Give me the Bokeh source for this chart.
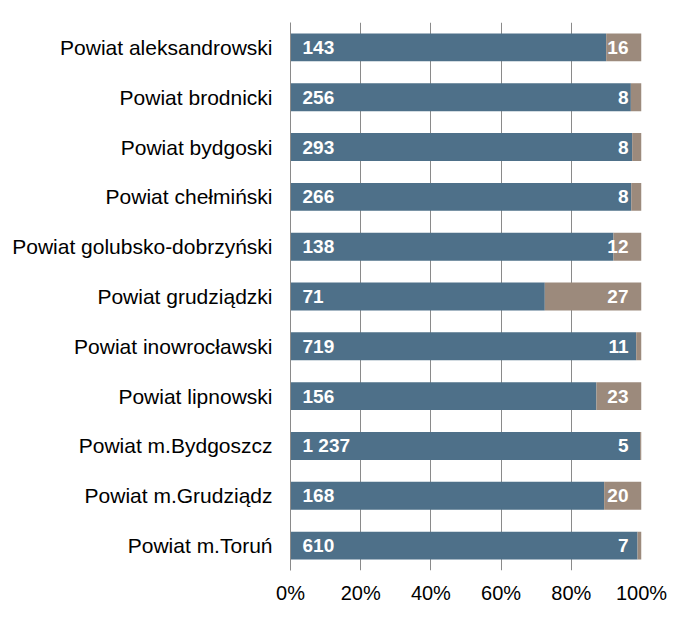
from bokeh.plotting import figure
from bokeh.models import ColumnDataSource, FactorRange, Range1d, FixedTicker, NumeralTickFormatter, LabelSet
from bokeh.core.properties import value
from bokeh.embed import file_html
from bokeh.resources import INLINE

categories = [
    "Powiat aleksandrowski",
    "Powiat brodnicki",
    "Powiat bydgoski",
    "Powiat chełmiński",
    "Powiat golubsko-dobrzyński",
    "Powiat grudziądzki",
    "Powiat inowrocławski",
    "Powiat lipnowski",
    "Powiat m.Bydgoszcz",
    "Powiat m.Grudziądz",
    "Powiat m.Toruń",
]
series_a = [143, 256, 293, 266, 138, 71, 719, 156, 1237, 168, 610]
series_b = [16, 8, 8, 8, 12, 27, 11, 23, 5, 20, 7]
x_ticks = [0, 0.2, 0.4, 0.6, 0.8, 1.0]

BLUE = "#4E7089"
TAUPE = "#9C8A7C"
GRID = "#8A8A8A"
FONT = "Liberation Sans"

totals = [a + b for a, b in zip(series_a, series_b)]
share_a = [a / t for a, t in zip(series_a, totals)]

def fmt(v):
    return f"{v:,}".replace(",", " ")

src = ColumnDataSource(dict(
    cat=categories,
    zero=[0] * len(categories),
    share_a=share_a,
    one=[1] * len(categories),
    lab_a=[fmt(v) for v in series_a],
    lab_b=[fmt(v) for v in series_b],
))

p = figure(
    width=683, height=611,
    y_range=FactorRange(factors=list(reversed(categories))),
    x_range=Range1d(0, 1),
    output_backend="svg", toolbar_location=None,
    min_border_left=290, min_border_right=42, min_border_top=22, min_border_bottom=41,
)

p.hbar(y="cat", left="zero", right="share_a", height=0.56, source=src, fill_color=BLUE, line_color=None)
p.hbar(y="cat", left="share_a", right="one", height=0.56, source=src, fill_color=TAUPE, line_color=None)

la = LabelSet(x="zero", y="cat", text="lab_a", source=src, x_offset=12,
              text_align="left", text_baseline="middle", text_color="white",
              text_font=value(FONT), text_font_style="bold", text_font_size="19px")
lb = LabelSet(x="one", y="cat", text="lab_b", source=src, x_offset=-13,
              text_align="right", text_baseline="middle", text_color="white",
              text_font=value(FONT), text_font_style="bold", text_font_size="19px")
p.add_layout(la)
p.add_layout(lb)

p.outline_line_color = None
p.background_fill_color = "white"
p.border_fill_color = "white"

p.xgrid.ticker = FixedTicker(ticks=x_ticks)
p.xgrid.grid_line_color = GRID
p.ygrid.grid_line_color = None

xa = p.xaxis[0]
xa.ticker = FixedTicker(ticks=x_ticks)
xa.formatter = NumeralTickFormatter(format="0%")
xa.axis_line_color = None
xa.major_tick_line_color = None
xa.minor_tick_line_color = None
xa.major_label_text_font = FONT
xa.major_label_text_font_size = "20px"
xa.major_label_text_color = "black"
xa.major_label_standoff = 5

ya = p.yaxis[0]
ya.axis_line_color = GRID
ya.major_tick_line_color = None
ya.minor_tick_line_color = None
ya.major_label_text_font = FONT
ya.major_label_text_font_size = "21px"
ya.major_label_text_color = "black"
ya.major_label_standoff = 12

open("out.html", "w").write(file_html(p, INLINE))
